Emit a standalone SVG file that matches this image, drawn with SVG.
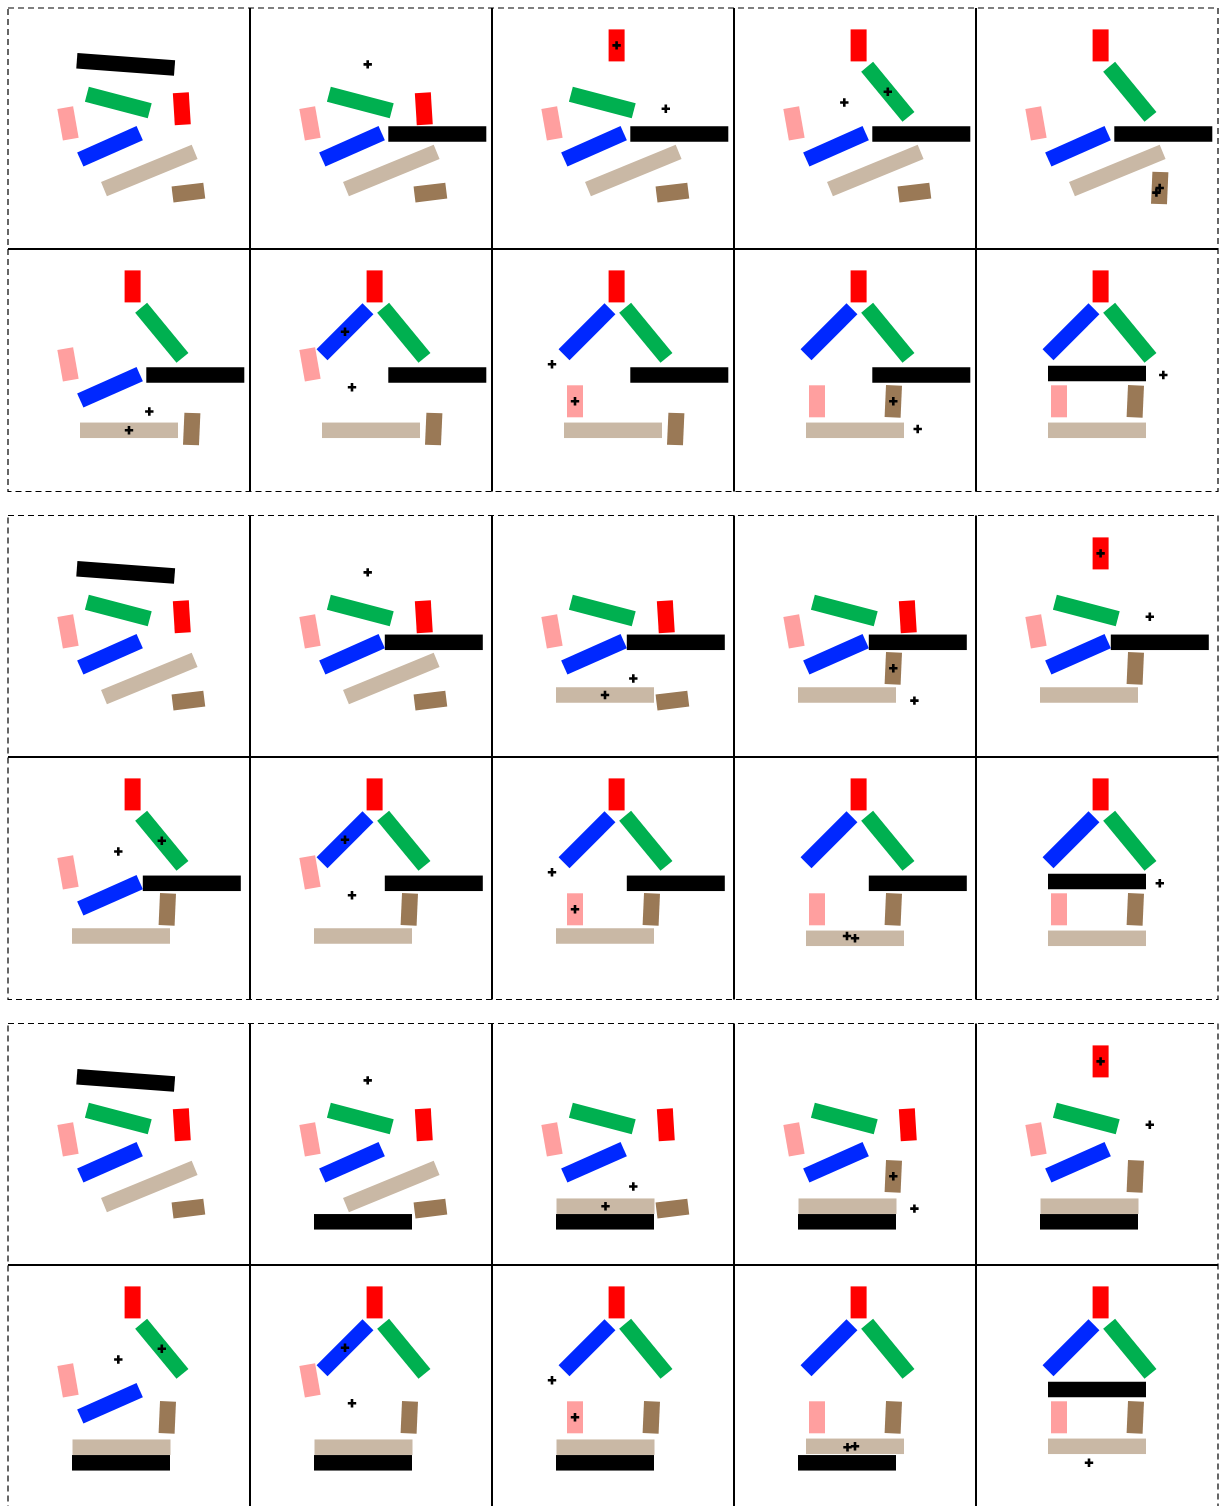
<svg xmlns="http://www.w3.org/2000/svg" xmlns:xlink="http://www.w3.org/1999/xlink" width="1219" height="1506" viewBox="0 0 1219 1506">
<style>
.dash{fill:none;stroke:#000;stroke-width:1.2;stroke-dasharray:6 4}
.grid{stroke:#000;stroke-width:2;fill:none}
.k{fill:#000}.g{fill:#00b050}.r{fill:#ff0000}.p{fill:#ff9f9f}.u{fill:#0028ff}.t{fill:#c9b8a5}.w{fill:#9a7956}
.x{stroke:#000;stroke-width:2.6;fill:none}
</style>
<defs>
<rect id="L" x="-49" y="-7.75" width="98" height="15.5"/>
<rect id="M" x="-32.5" y="-7.75" width="65" height="15.5"/>
<rect id="S" x="-8" y="-16" width="16" height="32"/>
<path id="X" d="M-4.2 0H4.2M0-4.2V4.2"/>
</defs>
<rect width="1219" height="1506" fill="#fff"/>
<g id="frames">
<rect class="dash" x="8" y="8" width="1210" height="483.5"/>
<path class="grid" d="M8 249H1218M250 8V491.5M492 8V491.5M734 8V491.5M976 8V491.5"/>
<rect class="dash" x="8" y="515.5" width="1210" height="484"/>
<path class="grid" d="M8 757H1218M250 515.5V999.5M492 515.5V999.5M734 515.5V999.5M976 515.5V999.5"/>
<rect class="dash" x="8" y="1023.5" width="1210" height="484"/>
<path class="grid" d="M8 1265H1218M250 1023.5V1507M492 1023.5V1507M734 1023.5V1507M976 1023.5V1507"/>
</g>

<!-- Section 1 -->
<g id="s1c1" transform="translate(8,8)">
<use href="#L" class="k" transform="translate(117.7,56.4) rotate(4.3)"/>
<use href="#M" class="g" transform="translate(110.3,94.5) rotate(14.7)"/>
<use href="#S" class="r" transform="translate(173.8,100.7) rotate(-3.5)"/>
<use href="#S" class="p" transform="translate(60,115.3) rotate(-10)"/>
<use href="#M" class="u" transform="translate(102,138.3) rotate(-23.9)"/>
<use href="#L" class="t" transform="translate(141.3,162.5) rotate(-22.3)"/>
<use href="#S" class="w" transform="translate(180.4,184.6) rotate(83)"/>
</g>
<g id="s1c2" transform="translate(250,8)">
<use href="#L" class="k" transform="translate(187.3,126)"/>
<use href="#M" class="g" transform="translate(110.3,94.5) rotate(14.7)"/>
<use href="#S" class="r" transform="translate(173.8,100.7) rotate(-3.5)"/>
<use href="#S" class="p" transform="translate(60,115.3) rotate(-10)"/>
<use href="#M" class="u" transform="translate(102,138.3) rotate(-23.9)"/>
<use href="#L" class="t" transform="translate(141.3,162.5) rotate(-22.3)"/>
<use href="#S" class="w" transform="translate(180.4,184.6) rotate(83)"/>
<use href="#X" class="x" transform="translate(117.7,56.4)"/>
</g>
<g id="s1c3" transform="translate(492,8)">
<use href="#L" class="k" transform="translate(187.3,126)"/>
<use href="#M" class="g" transform="translate(110.3,94.5) rotate(14.7)"/>
<use href="#S" class="r" transform="translate(124.6,37.4)"/>
<use href="#S" class="p" transform="translate(60,115.3) rotate(-10)"/>
<use href="#M" class="u" transform="translate(102,138.3) rotate(-23.9)"/>
<use href="#L" class="t" transform="translate(141.3,162.5) rotate(-22.3)"/>
<use href="#S" class="w" transform="translate(180.4,184.6) rotate(83)"/>
<use href="#X" class="x" transform="translate(124.6,37.4)"/>
<use href="#X" class="x" transform="translate(173.8,100.7)"/>
</g>
<g id="s1c4" transform="translate(734,8)">
<use href="#L" class="k" transform="translate(187.3,126)"/>
<use href="#M" class="g" transform="translate(153.8,83.8) rotate(50.5)"/>
<use href="#S" class="r" transform="translate(124.6,37.4)"/>
<use href="#S" class="p" transform="translate(60,115.3) rotate(-10)"/>
<use href="#M" class="u" transform="translate(102,138.3) rotate(-23.9)"/>
<use href="#L" class="t" transform="translate(141.3,162.5) rotate(-22.3)"/>
<use href="#S" class="w" transform="translate(180.4,184.6) rotate(83)"/>
<use href="#X" class="x" transform="translate(153.8,83.8)"/>
<use href="#X" class="x" transform="translate(110.3,94.5)"/>
</g>
<g id="s1c5" transform="translate(976,8)">
<use href="#L" class="k" transform="translate(187.3,126)"/>
<use href="#M" class="g" transform="translate(153.8,83.8) rotate(50.5)"/>
<use href="#S" class="r" transform="translate(124.6,37.4)"/>
<use href="#S" class="p" transform="translate(60,115.3) rotate(-10)"/>
<use href="#M" class="u" transform="translate(102,138.3) rotate(-23.9)"/>
<use href="#L" class="t" transform="translate(141.3,162.5) rotate(-22.3)"/>
<use href="#S" class="w" transform="translate(183.7,180) rotate(2.5)"/>
<use href="#X" class="x" transform="translate(180.4,184.6)"/>
<use href="#X" class="x" transform="translate(183.7,180)"/>
</g>
<g id="s1c6" transform="translate(8,249)">
<use href="#L" class="k" transform="translate(187.3,126)"/>
<use href="#M" class="g" transform="translate(153.8,83.8) rotate(50.5)"/>
<use href="#S" class="r" transform="translate(124.6,37.4)"/>
<use href="#S" class="p" transform="translate(60,115.3) rotate(-10)"/>
<use href="#M" class="u" transform="translate(102,138.3) rotate(-23.9)"/>
<use href="#L" class="t" transform="translate(121,181.3)"/>
<use href="#S" class="w" transform="translate(183.7,180) rotate(2.5)"/>
<use href="#X" class="x" transform="translate(141.3,162.5)"/>
<use href="#X" class="x" transform="translate(121,181.3)"/>
</g>
<g id="s1c7" transform="translate(250,249)">
<use href="#L" class="k" transform="translate(187.3,126)"/>
<use href="#M" class="g" transform="translate(153.8,83.8) rotate(50.5)"/>
<use href="#S" class="r" transform="translate(124.6,37.4)"/>
<use href="#S" class="p" transform="translate(60,115.3) rotate(-10)"/>
<use href="#M" class="u" transform="translate(95,82.7) rotate(-45)"/>
<use href="#L" class="t" transform="translate(121,181.3)"/>
<use href="#S" class="w" transform="translate(183.7,180) rotate(2.5)"/>
<use href="#X" class="x" transform="translate(95,82.7)"/>
<use href="#X" class="x" transform="translate(102,138.3)"/>
</g>
<g id="s1c8" transform="translate(492,249)">
<use href="#L" class="k" transform="translate(187.3,126)"/>
<use href="#M" class="g" transform="translate(153.8,83.8) rotate(50.5)"/>
<use href="#S" class="r" transform="translate(124.6,37.4)"/>
<use href="#S" class="p" transform="translate(83,152.3)"/>
<use href="#M" class="u" transform="translate(95,82.7) rotate(-45)"/>
<use href="#L" class="t" transform="translate(121,181.3)"/>
<use href="#S" class="w" transform="translate(183.7,180) rotate(2.5)"/>
<use href="#X" class="x" transform="translate(60,115.3)"/>
<use href="#X" class="x" transform="translate(83,152.3)"/>
</g>
<g id="s1c9" transform="translate(734,249)">
<use href="#L" class="k" transform="translate(187.3,126)"/>
<use href="#M" class="g" transform="translate(153.8,83.8) rotate(50.5)"/>
<use href="#S" class="r" transform="translate(124.6,37.4)"/>
<use href="#S" class="p" transform="translate(83,152.3)"/>
<use href="#M" class="u" transform="translate(95,82.7) rotate(-45)"/>
<use href="#L" class="t" transform="translate(121,181.3)"/>
<use href="#S" class="w" transform="translate(159.3,152.3) rotate(2.5)"/>
<use href="#X" class="x" transform="translate(159.3,152.3)"/>
<use href="#X" class="x" transform="translate(183.7,180)"/>
</g>
<g id="s1c10" transform="translate(976,249)">
<use href="#L" class="k" transform="translate(121,124.5)"/>
<use href="#M" class="g" transform="translate(153.8,83.8) rotate(50.5)"/>
<use href="#S" class="r" transform="translate(124.6,37.4)"/>
<use href="#S" class="p" transform="translate(83,152.3)"/>
<use href="#M" class="u" transform="translate(95,82.7) rotate(-45)"/>
<use href="#L" class="t" transform="translate(121,181.3)"/>
<use href="#S" class="w" transform="translate(159.3,152.3) rotate(2.5)"/>
<use href="#X" class="x" transform="translate(187.3,126)"/>
</g>

<!-- Section 2 -->
<g id="s2c1" transform="translate(8,516)">
<use href="#L" class="k" transform="translate(117.7,56.4) rotate(4.3)"/>
<use href="#M" class="g" transform="translate(110.3,94.5) rotate(14.7)"/>
<use href="#S" class="r" transform="translate(173.8,100.7) rotate(-3.5)"/>
<use href="#S" class="p" transform="translate(60,115.3) rotate(-10)"/>
<use href="#M" class="u" transform="translate(102,138.3) rotate(-23.9)"/>
<use href="#L" class="t" transform="translate(141.3,162.5) rotate(-22.3)"/>
<use href="#S" class="w" transform="translate(180.4,184.6) rotate(83)"/>
</g>
<g id="s2c2" transform="translate(250,516)">
<use href="#L" class="k" transform="translate(183.8,126.3)"/>
<use href="#M" class="g" transform="translate(110.3,94.5) rotate(14.7)"/>
<use href="#S" class="r" transform="translate(173.8,100.7) rotate(-3.5)"/>
<use href="#S" class="p" transform="translate(60,115.3) rotate(-10)"/>
<use href="#M" class="u" transform="translate(102,138.3) rotate(-23.9)"/>
<use href="#L" class="t" transform="translate(141.3,162.5) rotate(-22.3)"/>
<use href="#S" class="w" transform="translate(180.4,184.6) rotate(83)"/>
<use href="#X" class="x" transform="translate(117.7,56.4)"/>
</g>
<g id="s2c3" transform="translate(492,516)">
<use href="#L" class="k" transform="translate(183.8,126.3)"/>
<use href="#M" class="g" transform="translate(110.3,94.5) rotate(14.7)"/>
<use href="#S" class="r" transform="translate(173.8,100.7) rotate(-3.5)"/>
<use href="#S" class="p" transform="translate(60,115.3) rotate(-10)"/>
<use href="#M" class="u" transform="translate(102,138.3) rotate(-23.9)"/>
<use href="#L" class="t" transform="translate(113,179)"/>
<use href="#S" class="w" transform="translate(180.4,184.6) rotate(83)"/>
<use href="#X" class="x" transform="translate(141.3,162.5)"/>
<use href="#X" class="x" transform="translate(113,179)"/>
</g>
<g id="s2c4" transform="translate(734,516)">
<use href="#L" class="k" transform="translate(183.8,126.3)"/>
<use href="#M" class="g" transform="translate(110.3,94.5) rotate(14.7)"/>
<use href="#S" class="r" transform="translate(173.8,100.7) rotate(-3.5)"/>
<use href="#S" class="p" transform="translate(60,115.3) rotate(-10)"/>
<use href="#M" class="u" transform="translate(102,138.3) rotate(-23.9)"/>
<use href="#L" class="t" transform="translate(113,179)"/>
<use href="#S" class="w" transform="translate(159.3,152.3) rotate(2.5)"/>
<use href="#X" class="x" transform="translate(159.3,152.3)"/>
<use href="#X" class="x" transform="translate(180.4,184.6)"/>
</g>
<g id="s2c5" transform="translate(976,516)">
<use href="#L" class="k" transform="translate(183.8,126.3)"/>
<use href="#M" class="g" transform="translate(110.3,94.5) rotate(14.7)"/>
<use href="#S" class="r" transform="translate(124.6,37.4)"/>
<use href="#S" class="p" transform="translate(60,115.3) rotate(-10)"/>
<use href="#M" class="u" transform="translate(102,138.3) rotate(-23.9)"/>
<use href="#L" class="t" transform="translate(113,179)"/>
<use href="#S" class="w" transform="translate(159.3,152.3) rotate(2.5)"/>
<use href="#X" class="x" transform="translate(124.6,37.4)"/>
<use href="#X" class="x" transform="translate(173.8,100.7)"/>
</g>
<g id="s2c6" transform="translate(8,757)">
<use href="#L" class="k" transform="translate(183.8,126.3)"/>
<use href="#M" class="g" transform="translate(153.8,83.8) rotate(50.5)"/>
<use href="#S" class="r" transform="translate(124.6,37.4)"/>
<use href="#S" class="p" transform="translate(60,115.3) rotate(-10)"/>
<use href="#M" class="u" transform="translate(102,138.3) rotate(-23.9)"/>
<use href="#L" class="t" transform="translate(113,179)"/>
<use href="#S" class="w" transform="translate(159.3,152.3) rotate(2.5)"/>
<use href="#X" class="x" transform="translate(153.8,83.8)"/>
<use href="#X" class="x" transform="translate(110.3,94.5)"/>
</g>
<g id="s2c7" transform="translate(250,757)">
<use href="#L" class="k" transform="translate(183.8,126.3)"/>
<use href="#M" class="g" transform="translate(153.8,83.8) rotate(50.5)"/>
<use href="#S" class="r" transform="translate(124.6,37.4)"/>
<use href="#S" class="p" transform="translate(60,115.3) rotate(-10)"/>
<use href="#M" class="u" transform="translate(95,82.7) rotate(-45)"/>
<use href="#L" class="t" transform="translate(113,179)"/>
<use href="#S" class="w" transform="translate(159.3,152.3) rotate(2.5)"/>
<use href="#X" class="x" transform="translate(95,82.7)"/>
<use href="#X" class="x" transform="translate(102,138.3)"/>
</g>
<g id="s2c8" transform="translate(492,757)">
<use href="#L" class="k" transform="translate(183.8,126.3)"/>
<use href="#M" class="g" transform="translate(153.8,83.8) rotate(50.5)"/>
<use href="#S" class="r" transform="translate(124.6,37.4)"/>
<use href="#S" class="p" transform="translate(83,152.3)"/>
<use href="#M" class="u" transform="translate(95,82.7) rotate(-45)"/>
<use href="#L" class="t" transform="translate(113,179)"/>
<use href="#S" class="w" transform="translate(159.3,152.3) rotate(2.5)"/>
<use href="#X" class="x" transform="translate(60,115.3)"/>
<use href="#X" class="x" transform="translate(83,152.3)"/>
</g>
<g id="s2c9" transform="translate(734,757)">
<use href="#L" class="k" transform="translate(183.8,126.3)"/>
<use href="#M" class="g" transform="translate(153.8,83.8) rotate(50.5)"/>
<use href="#S" class="r" transform="translate(124.6,37.4)"/>
<use href="#S" class="p" transform="translate(83,152.3)"/>
<use href="#M" class="u" transform="translate(95,82.7) rotate(-45)"/>
<use href="#L" class="t" transform="translate(121,181.3)"/>
<use href="#S" class="w" transform="translate(159.3,152.3) rotate(2.5)"/>
<use href="#X" class="x" transform="translate(113,179)"/>
<use href="#X" class="x" transform="translate(121,181.3)"/>
</g>
<g id="s2c10" transform="translate(976,757)">
<use href="#L" class="k" transform="translate(121,124.5)"/>
<use href="#M" class="g" transform="translate(153.8,83.8) rotate(50.5)"/>
<use href="#S" class="r" transform="translate(124.6,37.4)"/>
<use href="#S" class="p" transform="translate(83,152.3)"/>
<use href="#M" class="u" transform="translate(95,82.7) rotate(-45)"/>
<use href="#L" class="t" transform="translate(121,181.3)"/>
<use href="#S" class="w" transform="translate(159.3,152.3) rotate(2.5)"/>
<use href="#X" class="x" transform="translate(183.8,126.3)"/>
</g>

<!-- Section 3 -->
<g id="s3c1" transform="translate(8,1024)">
<use href="#L" class="k" transform="translate(117.7,56.4) rotate(4.3)"/>
<use href="#M" class="g" transform="translate(110.3,94.5) rotate(14.7)"/>
<use href="#S" class="r" transform="translate(173.8,100.7) rotate(-3.5)"/>
<use href="#S" class="p" transform="translate(60,115.3) rotate(-10)"/>
<use href="#M" class="u" transform="translate(102,138.3) rotate(-23.9)"/>
<use href="#L" class="t" transform="translate(141.3,162.5) rotate(-22.3)"/>
<use href="#S" class="w" transform="translate(180.4,184.6) rotate(83)"/>
</g>
<g id="s3c2" transform="translate(250,1024)">
<use href="#L" class="k" transform="translate(113,197.8)"/>
<use href="#M" class="g" transform="translate(110.3,94.5) rotate(14.7)"/>
<use href="#S" class="r" transform="translate(173.8,100.7) rotate(-3.5)"/>
<use href="#S" class="p" transform="translate(60,115.3) rotate(-10)"/>
<use href="#M" class="u" transform="translate(102,138.3) rotate(-23.9)"/>
<use href="#L" class="t" transform="translate(141.3,162.5) rotate(-22.3)"/>
<use href="#S" class="w" transform="translate(180.4,184.6) rotate(83)"/>
<use href="#X" class="x" transform="translate(117.7,56.4)"/>
</g>
<g id="s3c3" transform="translate(492,1024)">
<use href="#L" class="k" transform="translate(113,197.8)"/>
<use href="#M" class="g" transform="translate(110.3,94.5) rotate(14.7)"/>
<use href="#S" class="r" transform="translate(173.8,100.7) rotate(-3.5)"/>
<use href="#S" class="p" transform="translate(60,115.3) rotate(-10)"/>
<use href="#M" class="u" transform="translate(102,138.3) rotate(-23.9)"/>
<use href="#L" class="t" transform="translate(113.5,182.2)"/>
<use href="#S" class="w" transform="translate(180.4,184.6) rotate(83)"/>
<use href="#X" class="x" transform="translate(141.3,162.5)"/>
<use href="#X" class="x" transform="translate(113.5,182.2)"/>
</g>
<g id="s3c4" transform="translate(734,1024)">
<use href="#L" class="k" transform="translate(113,197.8)"/>
<use href="#M" class="g" transform="translate(110.3,94.5) rotate(14.7)"/>
<use href="#S" class="r" transform="translate(173.8,100.7) rotate(-3.5)"/>
<use href="#S" class="p" transform="translate(60,115.3) rotate(-10)"/>
<use href="#M" class="u" transform="translate(102,138.3) rotate(-23.9)"/>
<use href="#L" class="t" transform="translate(113.5,182.2)"/>
<use href="#S" class="w" transform="translate(159.3,152.3) rotate(2.5)"/>
<use href="#X" class="x" transform="translate(159.3,152.3)"/>
<use href="#X" class="x" transform="translate(180.4,184.6)"/>
</g>
<g id="s3c5" transform="translate(976,1024)">
<use href="#L" class="k" transform="translate(113,197.8)"/>
<use href="#M" class="g" transform="translate(110.3,94.5) rotate(14.7)"/>
<use href="#S" class="r" transform="translate(124.6,37.4)"/>
<use href="#S" class="p" transform="translate(60,115.3) rotate(-10)"/>
<use href="#M" class="u" transform="translate(102,138.3) rotate(-23.9)"/>
<use href="#L" class="t" transform="translate(113.5,182.2)"/>
<use href="#S" class="w" transform="translate(159.3,152.3) rotate(2.5)"/>
<use href="#X" class="x" transform="translate(124.6,37.4)"/>
<use href="#X" class="x" transform="translate(173.8,100.7)"/>
</g>
<g id="s3c6" transform="translate(8,1265)">
<use href="#L" class="k" transform="translate(113,197.8)"/>
<use href="#M" class="g" transform="translate(153.8,83.8) rotate(50.5)"/>
<use href="#S" class="r" transform="translate(124.6,37.4)"/>
<use href="#S" class="p" transform="translate(60,115.3) rotate(-10)"/>
<use href="#M" class="u" transform="translate(102,138.3) rotate(-23.9)"/>
<use href="#L" class="t" transform="translate(113.5,182.2)"/>
<use href="#S" class="w" transform="translate(159.3,152.3) rotate(2.5)"/>
<use href="#X" class="x" transform="translate(153.8,83.8)"/>
<use href="#X" class="x" transform="translate(110.3,94.5)"/>
</g>
<g id="s3c7" transform="translate(250,1265)">
<use href="#L" class="k" transform="translate(113,197.8)"/>
<use href="#M" class="g" transform="translate(153.8,83.8) rotate(50.5)"/>
<use href="#S" class="r" transform="translate(124.6,37.4)"/>
<use href="#S" class="p" transform="translate(60,115.3) rotate(-10)"/>
<use href="#M" class="u" transform="translate(95,82.7) rotate(-45)"/>
<use href="#L" class="t" transform="translate(113.5,182.2)"/>
<use href="#S" class="w" transform="translate(159.3,152.3) rotate(2.5)"/>
<use href="#X" class="x" transform="translate(95,82.7)"/>
<use href="#X" class="x" transform="translate(102,138.3)"/>
</g>
<g id="s3c8" transform="translate(492,1265)">
<use href="#L" class="k" transform="translate(113,197.8)"/>
<use href="#M" class="g" transform="translate(153.8,83.8) rotate(50.5)"/>
<use href="#S" class="r" transform="translate(124.6,37.4)"/>
<use href="#S" class="p" transform="translate(83,152.3)"/>
<use href="#M" class="u" transform="translate(95,82.7) rotate(-45)"/>
<use href="#L" class="t" transform="translate(113.5,182.2)"/>
<use href="#S" class="w" transform="translate(159.3,152.3) rotate(2.5)"/>
<use href="#X" class="x" transform="translate(60,115.3)"/>
<use href="#X" class="x" transform="translate(83,152.3)"/>
</g>
<g id="s3c9" transform="translate(734,1265)">
<use href="#L" class="k" transform="translate(113,197.8)"/>
<use href="#M" class="g" transform="translate(153.8,83.8) rotate(50.5)"/>
<use href="#S" class="r" transform="translate(124.6,37.4)"/>
<use href="#S" class="p" transform="translate(83,152.3)"/>
<use href="#M" class="u" transform="translate(95,82.7) rotate(-45)"/>
<use href="#L" class="t" transform="translate(121,181.3)"/>
<use href="#S" class="w" transform="translate(159.3,152.3) rotate(2.5)"/>
<use href="#X" class="x" transform="translate(113.5,182.2)"/>
<use href="#X" class="x" transform="translate(121,181.3)"/>
</g>
<g id="s3c10" transform="translate(976,1265)">
<use href="#L" class="k" transform="translate(121,124.5)"/>
<use href="#M" class="g" transform="translate(153.8,83.8) rotate(50.5)"/>
<use href="#S" class="r" transform="translate(124.6,37.4)"/>
<use href="#S" class="p" transform="translate(83,152.3)"/>
<use href="#M" class="u" transform="translate(95,82.7) rotate(-45)"/>
<use href="#L" class="t" transform="translate(121,181.3)"/>
<use href="#S" class="w" transform="translate(159.3,152.3) rotate(2.5)"/>
<use href="#X" class="x" transform="translate(113,197.8)"/>
</g>
</svg>
